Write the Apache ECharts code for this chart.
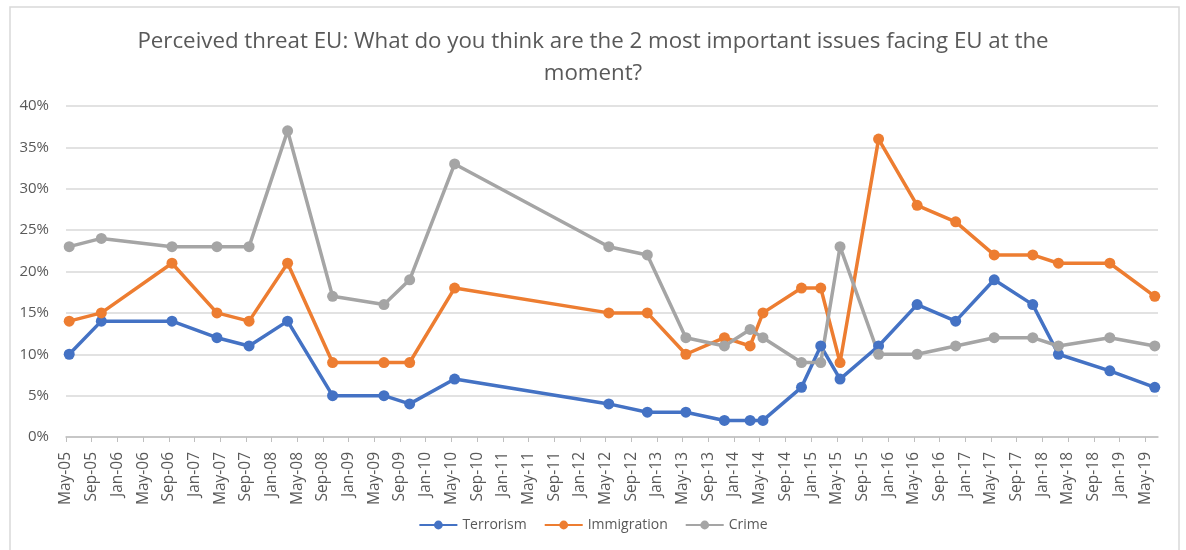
<!DOCTYPE html>
<html>
<head>
<meta charset="utf-8">
<script src="https://cdn.jsdelivr.net/npm/echarts@6/dist/echarts.min.js"></script>
<style>
  html, body { margin: 0; padding: 0; background: #ffffff; }
  #chart { width: 1186px; height: 550px; }
</style>
</head>
<body>
<div id="chart"></div>
<script>
// Survey waves (year-month) and the share naming each issue, in percent
const surveyDates = ['2005-05', '2005-10', '2006-09', '2007-04', '2007-09', '2008-03', '2008-10',
  '2009-06', '2009-10', '2010-05', '2012-05', '2012-11', '2013-05', '2013-11', '2014-03',
  '2014-05', '2014-11', '2015-02', '2015-05', '2015-11', '2016-05', '2016-11', '2017-05',
  '2017-11', '2018-03', '2018-11', '2019-06'];
const terrorism = [10, 14, 14, 12, 11, 14, 5, 5, 4, 7, 4, 3, 3, 2, 2, 2, 6, 11, 7, 11, 16, 14, 19, 16, 10, 8, 6];
const immigration = [14, 15, 21, 15, 14, 21, 9, 9, 9, 18, 15, 15, 10, 12, 11, 15, 18, 18, 9, 36, 28, 26, 22, 22, 21, 21, 17];
const crime = [23, 24, 23, 23, 23, 37, 17, 16, 19, 33, 23, 22, 12, 11, 13, 12, 9, 9, 23, 10, 10, 11, 12, 12, 11, 12, 11];

const seriesNames = ['Terrorism', 'Immigration', 'Crime'];
const seriesColors = ['#4472C4', '#ED7D31', '#A5A5A5'];
const monthNames = ['Jan', 'Feb', 'Mar', 'Apr', 'May', 'Jun', 'Jul', 'Aug', 'Sep', 'Oct', 'Nov', 'Dec'];

// Monthly date axis: first slot May-05, last slot Jun-19, a label every 4 months
const axisStart = '2005-05';
const axisEnd = '2019-07';
const labelStepMonths = 4;

const titleText = 'Perceived threat EU: What do you think are the 2 most important issues facing EU at the\nmoment?';

const TEXT = '#595959';
const FONT = 'Open Sans';

function monthIndex(ym) {
  const [y, m] = ym.split('-').map(Number);
  const [y0, m0] = axisStart.split('-').map(Number);
  return (y - y0) * 12 + (m - m0);
}
function monthLabel(idx) {
  const m0 = Number(axisStart.split('-')[1]) - 1;
  const y0 = Number(axisStart.split('-')[0]);
  const t = m0 + idx;
  const y = y0 + Math.floor(t / 12);
  return monthNames[t % 12] + '-' + String(y % 100).padStart(2, '0');
}
// each wave sits in the middle of its month slot
function points(values) {
  return surveyDates.map((d, i) => [monthIndex(d) + 0.5, values[i]]);
}

const chart = echarts.init(document.getElementById('chart'), null, { renderer: 'canvas' });

const allValues = [terrorism, immigration, crime];

chart.setOption({
  backgroundColor: '#ffffff',
  animation: false,
  textStyle: { fontFamily: FONT, color: TEXT },
  title: {
    text: titleText,
    left: 'center',
    top: 21,
    textStyle: { fontFamily: FONT, fontSize: 22.3, fontWeight: 'normal', color: TEXT, lineHeight: 32 }
  },
  graphic: [{
    type: 'rect',
    shape: { x: 10, y: 7, width: 1169, height: 560 },
    style: { fill: null, stroke: '#d9d9d9', lineWidth: 1.5 },
    silent: true,
    z: -1
  }],
  legend: {
    bottom: 13,
    left: 'center',
    itemWidth: 38,
    itemHeight: 11,
    itemGap: 17,
    textStyle: { fontFamily: FONT, fontSize: 14, color: TEXT },
    data: seriesNames
  },
  grid: { left: 66, right: 28, top: 106, bottom: 113, containLabel: false },
  xAxis: {
    type: 'value',
    min: 0,
    max: monthIndex(axisEnd),
    interval: labelStepMonths,
    splitLine: { show: false },
    axisLine: { show: true, lineStyle: { color: '#bfbfbf', width: 1.5 } },
    axisTick: { show: true, length: 5, lineStyle: { color: '#bfbfbf', width: 1 } },
    axisLabel: {
      rotate: 90,
      margin: 15,
      fontFamily: FONT,
      fontSize: 15.5,
      color: TEXT,
      showMaxLabel: false,
      formatter: v => (v % labelStepMonths === 0 ? monthLabel(v) : '')
    }
  },
  yAxis: {
    type: 'value',
    min: 0,
    max: 40,
    interval: 5,
    axisLine: { show: false },
    axisTick: { show: false },
    splitLine: { lineStyle: { color: '#d9d9d9', width: 1.5 } },
    axisLabel: { margin: 17, fontFamily: FONT, fontSize: 15, color: TEXT, formatter: '{value}%' }
  },
  series: seriesNames.map((name, k) => ({
    name: name,
    type: 'line',
    data: points(allValues[k]),
    symbol: 'circle',
    symbolSize: 11,
    showSymbol: true,
    lineStyle: { width: 3.5, color: seriesColors[k] },
    itemStyle: { color: seriesColors[k], borderWidth: 0 },
    emphasis: { disabled: true }
  }))
});
</script>
</body>
</html>
